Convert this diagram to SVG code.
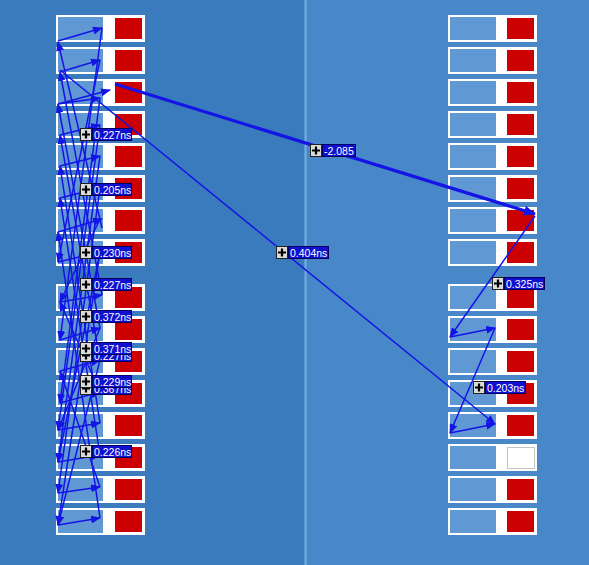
<svg xmlns="http://www.w3.org/2000/svg" width="589" height="565" viewBox="0 0 589 565">
<style>
.frame{fill:#ffffff}
.port{fill:#6098d4}
.red{fill:#cc0000}
.empty{fill:#ffffff;stroke:#c4c4c4;stroke-width:1}
.c{fill:none;stroke:#1414e6;stroke-width:1.5;marker-end:url(#ah)}
.cn{fill:none;stroke:#1414e6;stroke-width:1.5}
.thick{fill:none;stroke:#1414e6;stroke-width:3.2;marker-end:url(#ahb)}
.ic{fill:#dcdcdc;stroke:#202020;stroke-width:1}
.pl{stroke:#000;stroke-width:2.2}
.tb{fill:#1010d0;stroke:#000060;stroke-width:1}
.tx{font-family:"Liberation Sans",Arial,sans-serif;font-size:10.5px;fill:#ffffff}
</style>
<defs>
<marker id="ah" markerUnits="userSpaceOnUse" markerWidth="10" markerHeight="8" refX="9" refY="4" orient="auto"><path d="M0,0 L10,4 L0,8 Z" fill="#1414e6"/></marker>
<marker id="ahb" markerUnits="userSpaceOnUse" markerWidth="12" markerHeight="10" refX="11" refY="5" orient="auto"><path d="M0,0 L12,5 L0,10 Z" fill="#1414e6"/></marker>
</defs>
<rect x="0" y="0" width="305" height="565" fill="#397bbd"/>
<rect x="305" y="0" width="284" height="565" fill="#4888c8"/>
<rect x="304.5" y="0" width="2" height="565" fill="#78aee2"/>

<g id="nodes-left">
<g id="L1"><rect class="frame" x="56" y="15" width="89" height="27"/><rect class="port" x="58" y="17" width="45" height="23"/><rect class="red" x="115" y="18" width="27" height="21"/></g>
<g id="L2"><rect class="frame" x="56" y="47" width="89" height="27"/><rect class="port" x="58" y="49" width="45" height="23"/><rect class="red" x="115" y="50" width="27" height="21"/></g>
<g id="L3"><rect class="frame" x="56" y="79" width="89" height="27"/><rect class="port" x="58" y="81" width="45" height="23"/><rect class="red" x="115" y="82" width="27" height="21"/></g>
<g id="L4"><rect class="frame" x="56" y="111" width="89" height="27"/><rect class="port" x="58" y="113" width="45" height="23"/><rect class="red" x="115" y="114" width="27" height="21"/></g>
<g id="L5"><rect class="frame" x="56" y="143" width="89" height="27"/><rect class="port" x="58" y="145" width="45" height="23"/><rect class="red" x="115" y="146" width="27" height="21"/></g>
<g id="L6"><rect class="frame" x="56" y="175" width="89" height="27"/><rect class="port" x="58" y="177" width="45" height="23"/><rect class="red" x="115" y="178" width="27" height="21"/></g>
<g id="L7"><rect class="frame" x="56" y="207" width="89" height="27"/><rect class="port" x="58" y="209" width="45" height="23"/><rect class="red" x="115" y="210" width="27" height="21"/></g>
<g id="L8"><rect class="frame" x="56" y="239" width="89" height="27"/><rect class="port" x="58" y="241" width="45" height="23"/><rect class="red" x="115" y="242" width="27" height="21"/></g>
<g id="L9"><rect class="frame" x="56" y="284" width="89" height="27"/><rect class="port" x="58" y="286" width="45" height="23"/><rect class="red" x="115" y="287" width="27" height="21"/></g>
<g id="L10"><rect class="frame" x="56" y="316" width="89" height="27"/><rect class="port" x="58" y="318" width="45" height="23"/><rect class="red" x="115" y="319" width="27" height="21"/></g>
<g id="L11"><rect class="frame" x="56" y="348" width="89" height="27"/><rect class="port" x="58" y="350" width="45" height="23"/><rect class="red" x="115" y="351" width="27" height="21"/></g>
<g id="L12"><rect class="frame" x="56" y="380" width="89" height="27"/><rect class="port" x="58" y="382" width="45" height="23"/><rect class="red" x="115" y="383" width="27" height="21"/></g>
<g id="L13"><rect class="frame" x="56" y="412" width="89" height="27"/><rect class="port" x="58" y="414" width="45" height="23"/><rect class="red" x="115" y="415" width="27" height="21"/></g>
<g id="L14"><rect class="frame" x="56" y="444" width="89" height="27"/><rect class="port" x="58" y="446" width="45" height="23"/><rect class="red" x="115" y="447" width="27" height="21"/></g>
<g id="L15"><rect class="frame" x="56" y="476" width="89" height="27"/><rect class="port" x="58" y="478" width="45" height="23"/><rect class="red" x="115" y="479" width="27" height="21"/></g>
<g id="L16"><rect class="frame" x="56" y="508" width="89" height="27"/><rect class="port" x="58" y="510" width="45" height="23"/><rect class="red" x="115" y="511" width="27" height="21"/></g>
</g>

<g id="nodes-right">
<g id="R1"><rect class="frame" x="448" y="15" width="89" height="27"/><rect class="port" x="450" y="17" width="46" height="23"/><rect class="red" x="507" y="18" width="27" height="21"/></g>
<g id="R2"><rect class="frame" x="448" y="47" width="89" height="27"/><rect class="port" x="450" y="49" width="46" height="23"/><rect class="red" x="507" y="50" width="27" height="21"/></g>
<g id="R3"><rect class="frame" x="448" y="79" width="89" height="27"/><rect class="port" x="450" y="81" width="46" height="23"/><rect class="red" x="507" y="82" width="27" height="21"/></g>
<g id="R4"><rect class="frame" x="448" y="111" width="89" height="27"/><rect class="port" x="450" y="113" width="46" height="23"/><rect class="red" x="507" y="114" width="27" height="21"/></g>
<g id="R5"><rect class="frame" x="448" y="143" width="89" height="27"/><rect class="port" x="450" y="145" width="46" height="23"/><rect class="red" x="507" y="146" width="27" height="21"/></g>
<g id="R6"><rect class="frame" x="448" y="175" width="89" height="27"/><rect class="port" x="450" y="177" width="46" height="23"/><rect class="red" x="507" y="178" width="27" height="21"/></g>
<g id="R7"><rect class="frame" x="448" y="207" width="89" height="27"/><rect class="port" x="450" y="209" width="46" height="23"/><rect class="red" x="507" y="210" width="27" height="21"/></g>
<g id="R8"><rect class="frame" x="448" y="239" width="89" height="27"/><rect class="port" x="450" y="241" width="46" height="23"/><rect class="red" x="507" y="242" width="27" height="21"/></g>
<g id="R9"><rect class="frame" x="448" y="284" width="89" height="27"/><rect class="port" x="450" y="286" width="46" height="23"/><rect class="red" x="507" y="287" width="27" height="21"/></g>
<g id="R10"><rect class="frame" x="448" y="316" width="89" height="27"/><rect class="port" x="450" y="318" width="46" height="23"/><rect class="red" x="507" y="319" width="27" height="21"/></g>
<g id="R11"><rect class="frame" x="448" y="348" width="89" height="27"/><rect class="port" x="450" y="350" width="46" height="23"/><rect class="red" x="507" y="351" width="27" height="21"/></g>
<g id="R12"><rect class="frame" x="448" y="380" width="89" height="27"/><rect class="port" x="450" y="382" width="46" height="23"/><rect class="red" x="507" y="383" width="27" height="21"/></g>
<g id="R13"><rect class="frame" x="448" y="412" width="89" height="27"/><rect class="port" x="450" y="414" width="46" height="23"/><rect class="red" x="507" y="415" width="27" height="21"/></g>
<g id="R14"><rect class="frame" x="448" y="444" width="89" height="27"/><rect class="port" x="450" y="446" width="46" height="23"/><rect class="empty" x="507.5" y="447.5" width="27" height="21"/></g>
<g id="R15"><rect class="frame" x="448" y="476" width="89" height="27"/><rect class="port" x="450" y="478" width="46" height="23"/><rect class="red" x="507" y="479" width="27" height="21"/></g>
<g id="R16"><rect class="frame" x="448" y="508" width="89" height="27"/><rect class="port" x="450" y="510" width="46" height="23"/><rect class="red" x="507" y="511" width="27" height="21"/></g>
</g>

<g id="connectors">
<!-- short arrows within left rows -->
<line class="c" x1="58" y1="41" x2="102" y2="28"/>
<line class="c" x1="60" y1="72" x2="100" y2="60"/>
<line class="c" x1="58" y1="104" x2="100" y2="98"/>
<line class="c" x1="58" y1="104" x2="110" y2="90"/>
<line class="c" x1="60" y1="135" x2="100" y2="125"/>
<line class="c" x1="60" y1="166" x2="100" y2="156"/>
<line class="c" x1="60" y1="198" x2="100" y2="188"/>
<line class="c" x1="58" y1="232" x2="102" y2="219"/>
<line class="c" x1="58" y1="262" x2="100" y2="252"/>
<line class="c" x1="60" y1="302" x2="102" y2="295"/>
<line class="c" x1="60" y1="340" x2="100" y2="328"/>
<line class="c" x1="60" y1="371" x2="100" y2="360"/>
<line class="c" x1="60" y1="403" x2="100" y2="392"/>
<line class="c" x1="58" y1="430" x2="100" y2="423"/>
<line class="c" x1="58" y1="462" x2="100" y2="455"/>
<line class="c" x1="58" y1="493" x2="100" y2="487"/>
<line class="c" x1="58" y1="525" x2="100" y2="518"/>
<!-- long left connectors -->
<line class="c" x1="102" y1="228" x2="58" y2="42"/>
<line class="c" x1="102" y1="28" x2="60" y2="340"/>
<line class="c" x1="100" y1="98" x2="60" y2="403"/>
<line class="c" x1="100" y1="125" x2="58" y2="430"/>
<line class="c" x1="100" y1="156" x2="58" y2="462"/>
<line class="c" x1="100" y1="188" x2="58" y2="493"/>
<line class="c" x1="100" y1="252" x2="58" y2="462"/>
<line class="c" x1="100" y1="328" x2="58" y2="430"/>
<line class="c" x1="100" y1="252" x2="58" y2="525"/>
<line class="c" x1="100" y1="360" x2="58" y2="525"/>
<line class="c" x1="102" y1="295" x2="60" y2="72"/>
<line class="c" x1="100" y1="328" x2="58" y2="104"/>
<line class="c" x1="100" y1="360" x2="60" y2="135"/>
<line class="c" x1="100" y1="423" x2="60" y2="166"/>
<line class="c" x1="100" y1="455" x2="60" y2="198"/>
<line class="c" x1="100" y1="518" x2="58" y2="232"/>
<line class="c" x1="100" y1="60" x2="58" y2="262"/>
<line class="c" x1="100" y1="392" x2="60" y2="302"/>
<line class="c" x1="100" y1="487" x2="60" y2="371"/>
<line class="c" x1="100" y1="219" x2="60" y2="302"/>
<!-- cross connectors -->
<line class="c" x1="60" y1="70" x2="495" y2="424"/>
<line class="thick" x1="115" y1="84" x2="535" y2="214"/>
<!-- right chain -->
<line class="c" x1="535" y1="216" x2="450" y2="337"/>
<line class="c" x1="450" y1="337" x2="495" y2="328"/>
<line class="c" x1="495" y1="328" x2="450" y2="433"/>
<line class="c" x1="450" y1="433" x2="495" y2="424"/>
</g>

<g id="labels">
<g transform="translate(80,128)"><rect class="ic" x="0.5" y="0.5" width="11" height="12"/><path class="pl" d="M6,2.5 V10.5 M2,6.5 H10"/><rect class="tb" x="12.5" y="0.5" width="39" height="12"/><text class="tx" x="14" y="10.5">0.227ns</text></g>
<g transform="translate(80,183)"><rect class="ic" x="0.5" y="0.5" width="11" height="12"/><path class="pl" d="M6,2.5 V10.5 M2,6.5 H10"/><rect class="tb" x="12.5" y="0.5" width="39" height="12"/><text class="tx" x="14" y="10.5">0.205ns</text></g>
<g transform="translate(80,246)"><rect class="ic" x="0.5" y="0.5" width="11" height="12"/><path class="pl" d="M6,2.5 V10.5 M2,6.5 H10"/><rect class="tb" x="12.5" y="0.5" width="39" height="12"/><text class="tx" x="14" y="10.5">0.230ns</text></g>
<g transform="translate(80,278)"><rect class="ic" x="0.5" y="0.5" width="11" height="12"/><path class="pl" d="M6,2.5 V10.5 M2,6.5 H10"/><rect class="tb" x="12.5" y="0.5" width="39" height="12"/><text class="tx" x="14" y="10.5">0.227ns</text></g>
<g transform="translate(80,310)"><rect class="ic" x="0.5" y="0.5" width="11" height="12"/><path class="pl" d="M6,2.5 V10.5 M2,6.5 H10"/><rect class="tb" x="12.5" y="0.5" width="39" height="12"/><text class="tx" x="14" y="10.5">0.372ns</text></g>
<g transform="translate(80,349)"><rect class="ic" x="0.5" y="0.5" width="11" height="12"/><path class="pl" d="M6,2.5 V10.5 M2,6.5 H10"/><rect class="tb" x="12.5" y="0.5" width="39" height="12"/><text class="tx" x="14" y="10.5">0.227ns</text></g>
<g transform="translate(80,342)"><rect class="ic" x="0.5" y="0.5" width="11" height="12"/><path class="pl" d="M6,2.5 V10.5 M2,6.5 H10"/><rect class="tb" x="12.5" y="0.5" width="39" height="12"/><text class="tx" x="14" y="10.5">0.371ns</text></g>
<g transform="translate(80,382)"><rect class="ic" x="0.5" y="0.5" width="11" height="12"/><path class="pl" d="M6,2.5 V10.5 M2,6.5 H10"/><rect class="tb" x="12.5" y="0.5" width="39" height="12"/><text class="tx" x="14" y="10.5">0.367ns</text></g>
<g transform="translate(80,375)"><rect class="ic" x="0.5" y="0.5" width="11" height="12"/><path class="pl" d="M6,2.5 V10.5 M2,6.5 H10"/><rect class="tb" x="12.5" y="0.5" width="39" height="12"/><text class="tx" x="14" y="10.5">0.229ns</text></g>
<g transform="translate(80,445)"><rect class="ic" x="0.5" y="0.5" width="11" height="12"/><path class="pl" d="M6,2.5 V10.5 M2,6.5 H10"/><rect class="tb" x="12.5" y="0.5" width="39" height="12"/><text class="tx" x="14" y="10.5">0.226ns</text></g>
<g transform="translate(310,144)"><rect class="ic" x="0.5" y="0.5" width="11" height="12"/><path class="pl" d="M6,2.5 V10.5 M2,6.5 H10"/><rect class="tb" x="12.5" y="0.5" width="33" height="12"/><text class="tx" x="14" y="10.5">-2.085</text></g>
<g transform="translate(276,246)"><rect class="ic" x="0.5" y="0.5" width="11" height="12"/><path class="pl" d="M6,2.5 V10.5 M2,6.5 H10"/><rect class="tb" x="12.5" y="0.5" width="40" height="12"/><text class="tx" x="14" y="10.5">0.404ns</text></g>
<g transform="translate(492,277)"><rect class="ic" x="0.5" y="0.5" width="11" height="12"/><path class="pl" d="M6,2.5 V10.5 M2,6.5 H10"/><rect class="tb" x="12.5" y="0.5" width="40" height="12"/><text class="tx" x="14" y="10.5">0.325ns</text></g>
<g transform="translate(473,381)"><rect class="ic" x="0.5" y="0.5" width="11" height="12"/><path class="pl" d="M6,2.5 V10.5 M2,6.5 H10"/><rect class="tb" x="12.5" y="0.5" width="40" height="12"/><text class="tx" x="14" y="10.5">0.203ns</text></g>
</g>
</svg>
